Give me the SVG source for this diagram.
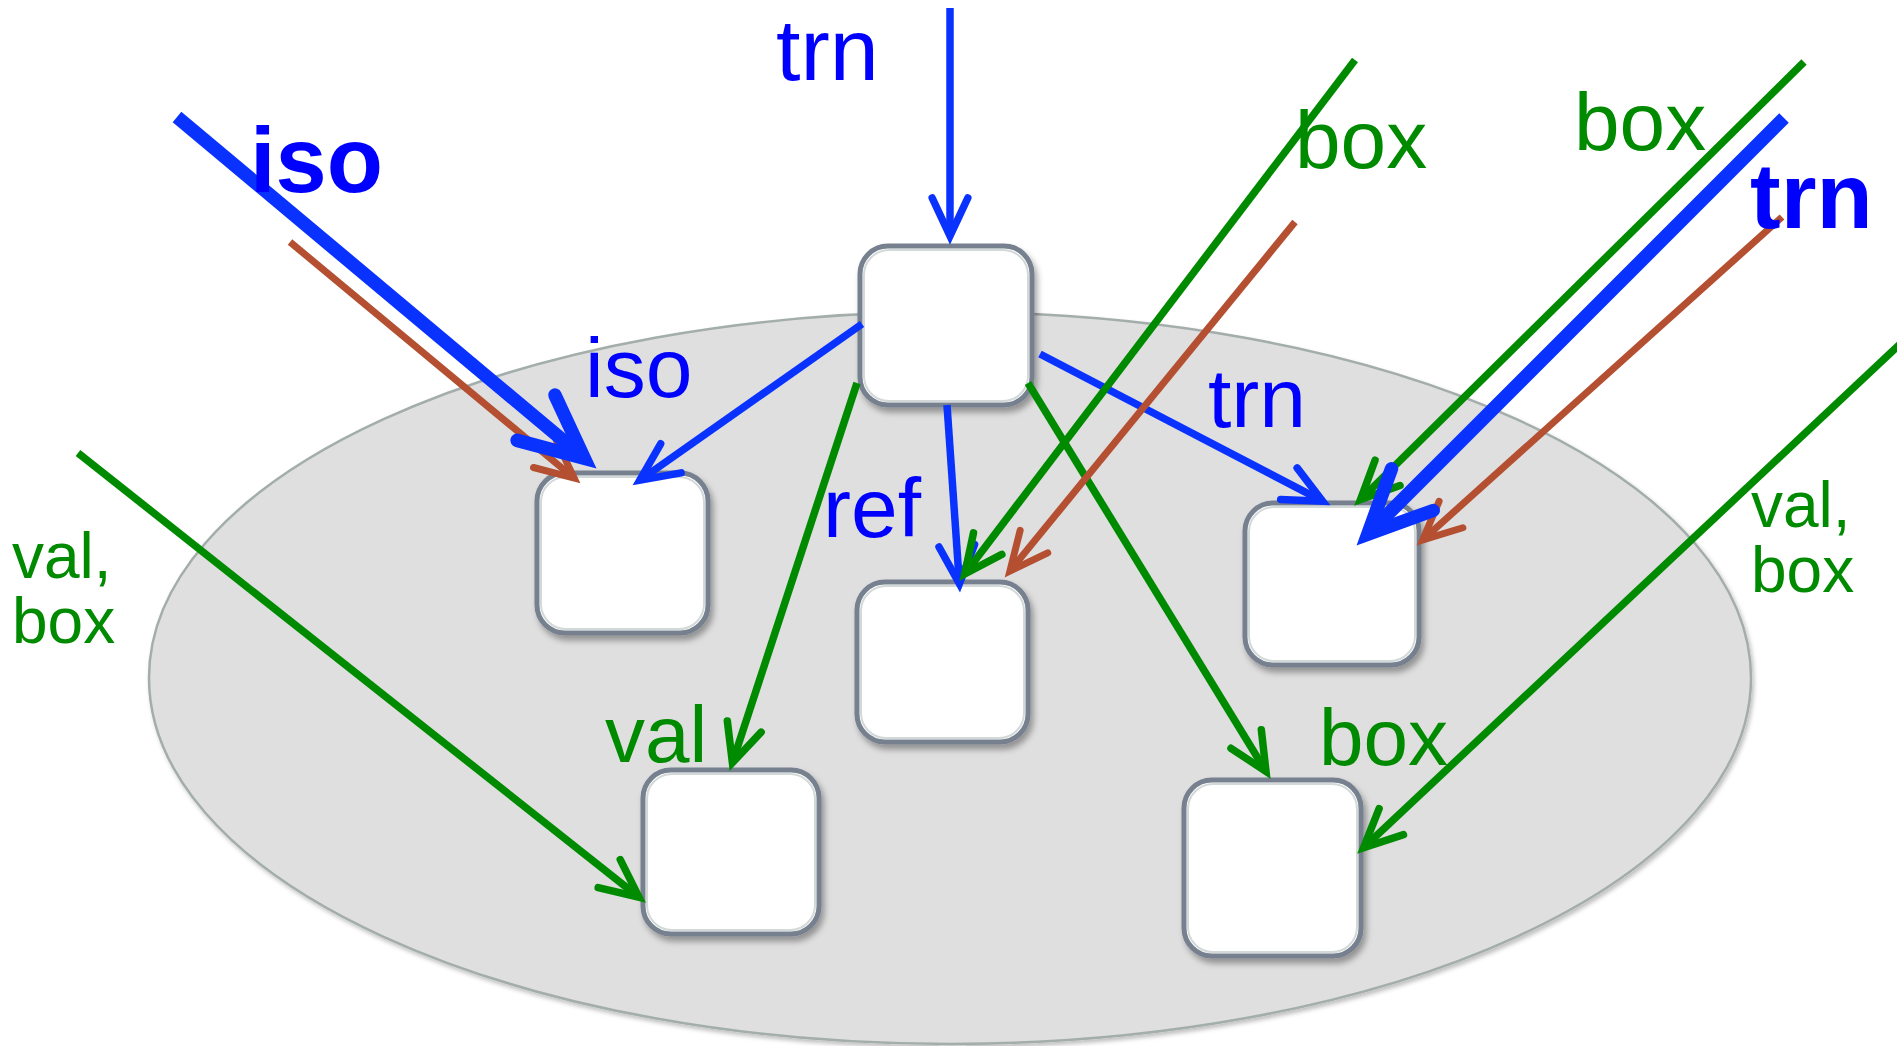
<svg xmlns="http://www.w3.org/2000/svg" width="1897" height="1046" viewBox="0 0 1897 1046">
<style>
.node rect.o{fill:#ffffff;stroke:#76808e;stroke-width:5}
.node rect.i{fill:none;stroke:#d2d9d8;stroke-width:2}
.c{fill:none;stroke-linecap:butt}
.b{stroke:#0a32ff;stroke-width:7.5}
.bb{stroke:#0a32ff;stroke-width:13.5}
.g{stroke:#008a00;stroke-width:7.5}
.r{stroke:#b44f31;stroke-width:7}
text{font-family:"Liberation Sans",Arial,sans-serif}
.tb{fill:#0000ff}
.tg{fill:#008a00}
</style>
<defs>
<filter id="sh" x="-10%" y="-10%" width="130%" height="130%">
<feDropShadow dx="3" dy="5" stdDeviation="3" flood-color="#000" flood-opacity="0.35"/>
</filter>
<filter id="esh" x="-5%" y="-5%" width="110%" height="110%">
<feDropShadow dx="2" dy="3" stdDeviation="2" flood-color="#000" flood-opacity="0.25"/>
</filter>
<marker id="mb" markerUnits="userSpaceOnUse" orient="auto" refX="0" refY="0" overflow="visible">
<path d="M-38,-17.8 L0,0 L-38,17.8" fill="none" stroke="#0a32ff" stroke-width="7.5" stroke-linecap="round" stroke-linejoin="miter"/>
</marker>
<marker id="mbb" markerUnits="userSpaceOnUse" orient="auto" refX="0" refY="0" overflow="visible">
<path d="M-63,-29.5 L0,0 L-63,29.5" fill="none" stroke="#0a32ff" stroke-width="13.5" stroke-linecap="round" stroke-linejoin="miter"/>
</marker>
<marker id="mg" markerUnits="userSpaceOnUse" orient="auto" refX="0" refY="0" overflow="visible">
<path d="M-38,-17.8 L0,0 L-38,17.8" fill="none" stroke="#008a00" stroke-width="7.5" stroke-linecap="round" stroke-linejoin="miter"/>
</marker>
<marker id="mr" markerUnits="userSpaceOnUse" orient="auto" refX="0" refY="0" overflow="visible">
<path d="M-38,-17.8 L0,0 L-38,17.8" fill="none" stroke="#b44f31" stroke-width="7" stroke-linecap="round" stroke-linejoin="miter"/>
</marker>
</defs>
<rect width="1897" height="1046" fill="#ffffff"/>
<ellipse id="region" cx="950" cy="678" rx="801" ry="366" fill="#dfdfdf" stroke="#a3adab" stroke-width="2.5" filter="url(#esh)"/>
<g id="node-top" class="node" filter="url(#sh)"><rect class="o" x="860" y="246" width="172" height="159" rx="28"/><rect class="i" x="864" y="250" width="164" height="151" rx="25"/></g>
<g id="node-iso" class="node" filter="url(#sh)"><rect class="o" x="537" y="473" width="171" height="160" rx="28"/><rect class="i" x="541" y="477" width="163" height="152" rx="25"/></g>
<g id="node-ref" class="node" filter="url(#sh)"><rect class="o" x="857" y="582" width="171" height="160" rx="28"/><rect class="i" x="861" y="586" width="163" height="152" rx="25"/></g>
<g id="node-trn" class="node" filter="url(#sh)"><rect class="o" x="1245" y="503" width="174" height="162" rx="28"/><rect class="i" x="1249" y="507" width="166" height="154" rx="25"/></g>
<g id="node-val" class="node" filter="url(#sh)"><rect class="o" x="643" y="770" width="176" height="164" rx="28"/><rect class="i" x="647" y="774" width="168" height="156" rx="25"/></g>
<g id="node-box" class="node" filter="url(#sh)"><rect class="o" x="1184" y="780" width="177" height="176" rx="28"/><rect class="i" x="1188" y="784" width="169" height="168" rx="25"/></g>
<g id="connectors">
<line class="c b" x1="950" y1="8" x2="950" y2="236" marker-end="url(#mb)"/>
<line class="c b" x1="862" y1="324" x2="639.8" y2="480.2" marker-end="url(#mb)"/>
<line class="c b" x1="947" y1="405" x2="959.4" y2="583.7" marker-end="url(#mb)"/>
<line class="c b" x1="1040" y1="354" x2="1322.6" y2="501.2" marker-end="url(#mb)"/>
<line class="c g" x1="78" y1="453" x2="639" y2="897.2" marker-end="url(#mg)"/>
<line class="c g" x1="857" y1="383" x2="732.4" y2="762.7" marker-end="url(#mg)"/>
<line class="c g" x1="1028" y1="383" x2="1266" y2="771.4" marker-end="url(#mg)"/>
<line class="c g" x1="1355" y1="60" x2="964.7" y2="573.9" marker-end="url(#mg)"/>
<line class="c g" x1="1804" y1="62" x2="1360.5" y2="499.6" marker-end="url(#mg)"/>
<line class="c g" x1="1900" y1="344" x2="1363.6" y2="847.7" marker-end="url(#mg)"/>
<line class="c r" x1="290" y1="242" x2="574.1" y2="478.1" marker-end="url(#mr)"/>
<line class="c r" x1="1295" y1="222" x2="1009.9" y2="571" marker-end="url(#mr)"/>
<line class="c r" x1="1782" y1="217" x2="1422.7" y2="539.9" marker-end="url(#mr)"/>
<line class="c bb" x1="177" y1="117" x2="584.3" y2="458.2" marker-end="url(#mbb)"/>
<line class="c bb" x1="1784" y1="118" x2="1367.8" y2="534.2" marker-end="url(#mbb)"/>
</g>
<g id="labels">
<text class="tb" x="776" y="80" font-size="88">trn</text>
<text class="tb" x="250" y="192" font-size="92" font-weight="bold">iso</text>
<text class="tb" x="1750" y="228" font-size="92" font-weight="bold">trn</text>
<text class="tb" x="585" y="397" font-size="84">iso</text>
<text class="tb" x="823" y="537" font-size="84">ref</text>
<text class="tb" x="1208" y="427" font-size="84">trn</text>
<text class="tg" x="1295" y="168" font-size="82">box</text>
<text class="tg" x="1574" y="150" font-size="82">box</text>
<text class="tg" x="605" y="762" font-size="80">val</text>
<text class="tg" x="1319" y="765" font-size="80">box</text>
<text class="tg" font-size="64"><tspan x="12" y="578">val,</tspan><tspan x="12" y="643">box</tspan></text>
<text class="tg" font-size="64"><tspan x="1751" y="527">val,</tspan><tspan x="1751" y="592">box</tspan></text>
</g>
</svg>
